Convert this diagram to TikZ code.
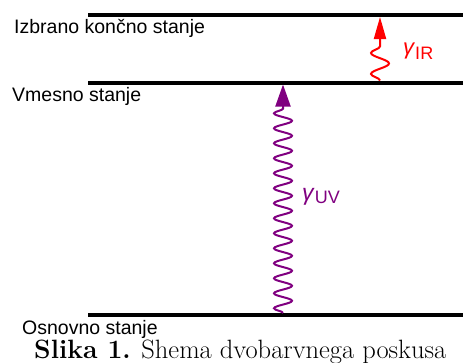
\documentclass[tikz,border=0pt]{standalone}
\usepackage{fontspec}
\newfontfamily\labelfont{Liberation Sans}
\usetikzlibrary{decorations.pathmorphing,arrows.meta}

\definecolor{irred}{RGB}{255,0,0}
\definecolor{uvpurple}{RGB}{128,0,128}

\tikzset{
  level/.style={line width=4pt, black},
  statelabel/.style={anchor=base west, inner sep=0pt, font=\labelfont\fontsize{19.5}{19.5}\selectfont},
  photon/.style={line width=2pt, decorate,
    decoration={snake, amplitude=#1, post length=22pt}},
}

\begin{document}
\begin{tikzpicture}[x=1pt, y=-1pt]
  \useasboundingbox (0,0) rectangle (463,362);

  % energy levels
  \coordinate (topL) at (88,15);   \coordinate (topR) at (463,15);
  \coordinate (midL) at (88,82.5); \coordinate (midR) at (463,82.5);
  \coordinate (botL) at (88,315);  \coordinate (botR) at (463,315);
  \draw[level] (topL) -- (topR);
  \draw[level] (midL) -- (midR);
  \draw[level] (botL) -- (botR);

  % level names
  \node[statelabel] (lfinal) at (14,33)  {Izbrano končno stanje};
  \node[statelabel] (lmid)   at (12,101) {Vmesno stanje};
  \node[statelabel] (lground) at (22,334.5) {Osnovno stanje};

  % photon end points
  \coordinate (uvfrom) at (283,313);
  \coordinate (uvto)   at (283,84.5);
  \coordinate (irfrom) at (380,80.5);
  \coordinate (irto)   at (380,17);

  % UV photon: ground -> intermediate
  \draw[uvpurple, photon=9pt, decoration={segment length=15pt},
        -{Triangle[length=22pt,width=15pt]}] (uvfrom) -- (uvto);
  % IR photon: intermediate -> final
  \draw[irred, photon=9pt, decoration={segment length=21pt},
        -{Triangle[length=22pt,width=12pt]}] (irfrom) -- (irto);

  % photon labels
  \node[anchor=base west, inner sep=0pt, text=uvpurple] (guv) at (302,200.5)
    {\labelfont\fontsize{23}{23}\selectfont\textit{γ}\raisebox{-2.5pt}{\fontsize{18}{18}\selectfont UV}};
  \node[anchor=base west, inner sep=0pt, text=irred] (gir) at (403,54.5)
    {\labelfont\fontsize{22}{22}\selectfont\textit{γ}\raisebox{-4.5pt}{\fontsize{18}{18}\selectfont IR}};

  % caption
  \node[anchor=base west, inner sep=0pt, font=\fontsize{26.5}{26.5}\selectfont] (cap) at (34,358)
    {\textbf{Slika 1.} Shema dvobarvnega poskusa};
\end{tikzpicture}
\end{document}
